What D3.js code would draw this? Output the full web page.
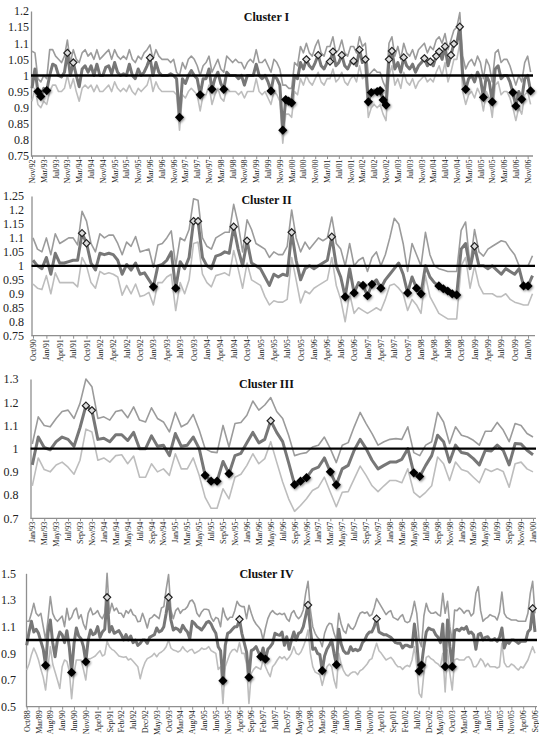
<!DOCTYPE html>
<html>
<head>
<meta charset="utf-8">
<script src="https://cdn.jsdelivr.net/npm/d3@7"></script>
<style>
  body { margin: 0; background: #fff; }
  svg { display: block; }
</style>
</head>
<body>
<svg id="chart" width="539" height="743"></svg>
<script>
const monthAbbr = ["Jan","Feb","Mar","Apr","May","Jun","Jul","Aug","Sep","Oct","Nov","Dec"];

// category labels "Mon/yy", one per month
function monthRange(startMonth, startYear, count) {
  const out = [];
  for (let k = 0; k < count; k++) {
    const m = startMonth + k;
    const yr = startYear + Math.floor(m / 12);
    out.push(monthAbbr[m % 12] + "/" + String(yr % 100).padStart(2, "0"));
  }
  return out;
}

// ---------- Cluster I : Nov/92 .. Dec/06 ----------
const c1Months = monthRange(10, 1992, 170);
const c1Mid = [
  0.96,1.02,0.95,0.935,0.96,0.953,1.0,1.035,1.03,1.0,
  0.995,1.01,1.07,1.0,1.04,1.0,0.965,1.02,1.03,1.01,
  1.03,1.0,1.035,1.0,1.0,1.025,1.03,1.005,1.04,1.01,
  1.0,1.005,1.0,1.035,1.0,0.99,1.02,1.0,1.01,1.03,
  1.055,1.0,1.04,1.01,1.0,1.0,1.0,1.005,1.0,0.99,
  0.87,0.99,0.975,1.0,1.015,1.0,0.99,0.94,0.99,0.99,
  1.02,0.957,0.99,1.01,0.975,0.957,1.01,1.0,1.0,1.0,
  0.99,1.0,0.97,1.0,1.0,1.0,1.035,1.0,0.99,1.0,
  0.98,0.952,1.0,0.99,0.97,0.83,0.925,0.92,0.915,1.0,
  0.99,1.04,1.02,1.05,1.03,1.02,1.04,1.063,1.03,1.02,
  1.04,1.043,1.074,1.03,1.04,1.063,1.03,1.02,1.04,1.045,
  1.03,1.08,1.04,1.05,0.918,0.947,0.955,0.95,0.953,0.924,
  0.908,1.05,1.076,1.02,1.04,1.01,1.056,1.03,1.02,1.035,
  1.01,1.03,1.04,1.053,1.03,1.043,1.03,1.06,1.074,1.05,
  1.09,1.03,1.063,1.098,1.1,1.151,1.0,0.957,0.99,1.0,
  0.98,1.01,0.99,0.932,1.0,0.98,0.918,1.02,1.03,0.99,
  1.0,1.0,0.98,0.947,0.905,0.95,0.926,0.99,1.0,0.952
];
const c1Upper = [
  1.075,1.07,0.99,0.98,1.0,0.99,1.08,1.08,1.06,1.05,
  1.04,1.06,1.11,1.04,1.08,1.05,1.04,1.07,1.08,1.06,
  1.07,1.05,1.08,1.05,1.06,1.07,1.08,1.05,1.08,1.06,
  1.05,1.06,1.05,1.08,1.05,1.04,1.06,1.05,1.07,1.08,
  1.095,1.05,1.08,1.06,1.05,1.05,1.05,1.04,1.05,1.01,
  1.0,1.04,1.02,1.05,1.06,1.05,1.03,1.0,1.03,1.04,
  1.06,1.01,1.03,1.05,1.02,1.01,1.06,1.05,1.04,1.05,
  1.04,1.04,1.02,1.04,1.05,1.04,1.08,1.04,1.04,1.05,
  1.03,1.01,1.05,1.04,1.02,0.97,0.97,0.96,0.96,1.04,
  1.03,1.09,1.07,1.1,1.07,1.06,1.09,1.11,1.07,1.06,
  1.09,1.09,1.12,1.07,1.08,1.11,1.07,1.06,1.09,1.09,
  1.07,1.12,1.09,1.1,1.0,1.01,1.02,1.01,1.01,0.98,
  0.96,1.1,1.12,1.06,1.09,1.05,1.1,1.07,1.06,1.08,
  1.05,1.08,1.09,1.1,1.07,1.09,1.08,1.11,1.12,1.1,
  1.13,1.08,1.11,1.14,1.15,1.195,1.06,1.02,1.04,1.05,
  1.03,1.06,1.04,0.99,1.05,1.03,0.98,1.07,1.08,1.04,
  1.05,1.05,1.03,1.0,0.97,1.0,0.98,1.04,1.06,1.01
];
const c1Lower = [
  0.92,0.96,0.91,0.9,0.92,0.91,0.95,0.97,0.97,0.95,
  0.95,0.96,1.0,0.96,0.99,0.95,0.92,0.96,0.97,0.96,
  0.97,0.95,0.97,0.95,0.95,0.96,0.97,0.95,0.98,0.96,
  0.95,0.96,0.95,0.97,0.95,0.94,0.96,0.95,0.96,0.97,
  1.0,0.95,0.98,0.96,0.95,0.95,0.95,0.95,0.95,0.94,
  0.83,0.94,0.93,0.95,0.96,0.95,0.94,0.89,0.94,0.94,
  0.97,0.91,0.94,0.96,0.93,0.92,0.96,0.95,0.95,0.95,
  0.94,0.95,0.93,0.95,0.95,0.95,0.99,0.95,0.94,0.95,
  0.93,0.91,0.95,0.94,0.92,0.79,0.88,0.88,0.87,0.95,
  0.94,0.99,0.97,1.0,0.98,0.97,0.99,1.01,0.98,0.97,
  0.99,0.99,1.02,0.98,0.99,1.01,0.98,0.97,0.99,1.0,
  0.98,1.03,0.99,1.0,0.87,0.9,0.91,0.9,0.91,0.88,
  0.86,1.0,1.03,0.97,0.99,0.96,1.01,0.98,0.97,0.99,
  0.96,0.98,0.99,1.0,0.98,0.99,0.98,1.01,1.03,1.0,
  1.04,0.98,1.01,1.05,1.05,1.1,0.95,0.91,0.94,0.95,
  0.93,0.96,0.94,0.89,0.95,0.93,0.87,0.97,0.98,0.94,
  0.95,0.95,0.93,0.9,0.86,0.9,0.88,0.94,0.95,0.91
];
const c1High = [12,14,40,93,97,101,102,105,109,111,113,121,122,126,133,135,137,138,140,142,143,145];
const c1Low = [2,3,5,50,57,61,65,81,85,86,87,88,114,115,117,118,119,120,147,153,156,163,164,166,169];
const c1Ticks = [0.75,0.8,0.85,0.9,0.95,1,1.05,1.1,1.15,1.2];

// ---------- Cluster II : Oct/90 .. Feb/00 ----------
const c2Months = monthRange(9, 1990, 113);
const c2Mid = [
  1.02,1.0,0.99,1.03,0.97,1.045,1.01,1.01,1.015,1.02,
  1.02,1.117,1.081,1.01,0.985,1.045,1.04,1.045,1.04,1.02,
  0.97,1.005,0.985,1.01,0.97,0.975,0.95,0.925,1.0,1.005,
  1.02,1.05,0.92,1.015,0.99,1.03,1.16,1.16,1.03,1.0,
  0.99,1.035,1.04,1.05,1.045,1.14,1.06,1.0,1.09,1.01,
  1.0,0.99,0.96,0.93,0.97,0.96,0.97,0.965,1.12,1.02,
  0.95,0.99,1.0,0.99,1.0,1.01,1.02,1.104,1.0,0.96,
  0.889,0.99,0.903,0.94,0.93,0.893,0.934,0.95,0.92,0.95,
  0.97,0.99,1.01,0.97,0.903,0.96,0.92,0.9,1.0,0.96,
  0.94,0.928,0.918,0.91,0.9,0.896,1.06,1.08,0.99,1.07,
  1.0,1.0,0.99,1.0,0.985,0.97,0.99,0.98,0.97,0.99,
  0.928,0.928,0.965
];
const c2Upper = [
  1.1,1.06,1.05,1.1,1.04,1.115,1.08,1.09,1.1,1.1,
  1.075,1.195,1.16,1.08,1.05,1.115,1.1,1.11,1.11,1.08,
  1.04,1.085,1.07,1.105,1.05,1.055,1.06,0.995,1.075,1.08,
  1.1,1.125,1.0,1.1,1.09,1.13,1.24,1.235,1.1,1.07,
  1.06,1.1,1.11,1.12,1.12,1.22,1.15,1.05,1.165,1.13,
  1.08,1.07,1.06,1.03,1.05,1.04,1.04,1.07,1.2,1.1,
  1.05,1.085,1.06,1.08,1.1,1.09,1.1,1.175,1.08,1.06,
  1.0,1.08,1.0,1.02,1.03,0.98,1.03,1.05,1.0,1.04,
  1.1,1.17,1.15,1.08,0.98,1.08,1.04,1.0,1.12,1.04,
  1.0,0.99,0.985,0.98,0.98,0.98,1.127,1.157,1.0,1.13,
  1.05,1.035,1.06,1.07,1.08,1.09,1.085,1.06,1.04,1.0,
  1.0,1.0,1.036
];
const c2Lower = [
  0.935,0.92,0.915,0.965,0.9,0.975,0.94,0.94,0.94,0.94,
  0.925,1.03,1.0,0.94,0.92,0.98,0.97,0.975,0.97,0.96,
  0.895,0.93,0.9,0.935,0.89,0.895,0.905,0.86,0.94,0.94,
  0.96,0.97,0.84,0.94,0.9,0.95,1.08,1.085,0.97,0.94,
  0.925,0.965,0.97,0.975,0.965,1.055,0.99,0.92,1.01,0.95,
  0.94,0.93,0.89,0.86,0.875,0.87,0.87,0.88,1.03,0.95,
  0.867,0.91,0.9,0.92,0.93,0.94,0.95,1.03,0.93,0.88,
  0.8,0.9,0.83,0.85,0.84,0.83,0.84,0.85,0.84,0.88,
  0.93,0.935,0.92,0.9,0.84,0.88,0.86,0.83,0.965,0.89,
  0.86,0.83,0.82,0.81,0.81,0.81,1.0,1.03,0.92,1.0,
  0.93,0.9,0.9,0.9,0.89,0.89,0.9,0.88,0.87,0.865,
  0.86,0.86,0.9
];
const c2High = [11,12,36,37,45,48,58,67,99];
const c2Low = [27,32,70,72,74,75,76,78,84,86,87,91,92,93,94,95,110,111];
const c2Ticks = [0.75,0.8,0.85,0.9,0.95,1,1.05,1.1,1.15,1.2,1.25];

// ---------- Cluster III : Jan/93 .. Jan/00 ----------
const c3Months = monthRange(0, 1993, 85);
const c3Mid = [
  0.93,1.05,1.005,0.995,1.03,1.05,1.04,1.01,1.09,1.185,
  1.165,1.04,1.045,1.03,1.06,1.06,1.035,1.07,1.0,1.0,
  1.055,1.01,1.015,0.97,1.065,1.01,1.015,1.05,1.0,0.885,
  0.86,0.86,0.945,0.892,0.97,0.98,1.025,1.07,1.025,1.04,
  1.12,1.07,1.03,0.94,0.845,0.86,0.875,0.91,0.92,0.96,
  0.9,0.844,0.913,0.928,0.993,1.04,1.0,0.95,0.913,0.928,
  0.942,0.942,0.954,1.0,0.896,0.88,0.928,0.97,1.058,1.03,
  0.942,1.015,0.983,0.978,0.957,0.93,0.993,0.99,1.015,0.993,
  0.93,1.022,1.02,0.993,0.974
];
const c3Upper = [
  1.02,1.137,1.1,1.094,1.13,1.16,1.166,1.13,1.195,1.3,
  1.267,1.13,1.137,1.123,1.16,1.166,1.133,1.18,1.123,1.115,
  1.176,1.13,1.115,1.072,1.156,1.094,1.108,1.147,1.08,1.0,
  0.986,0.983,1.1,1.007,1.108,1.113,1.144,1.205,1.166,1.188,
  1.22,1.16,1.13,1.058,0.97,0.978,0.983,1.007,1.015,1.05,
  1.0,0.94,1.015,1.026,1.094,1.156,1.108,1.065,1.015,1.03,
  1.04,1.043,1.04,1.094,0.983,0.97,1.015,1.03,1.156,1.115,
  1.022,1.094,1.058,1.05,1.036,1.015,1.075,1.075,1.113,1.08,
  1.03,1.108,1.1,1.065,1.05
];
const c3Lower = [
  0.84,0.96,0.91,0.9,0.93,0.942,0.92,0.89,0.95,1.084,
  1.072,0.95,0.96,0.942,0.97,0.974,0.935,0.968,0.877,0.877,
  0.935,0.9,0.913,0.885,0.978,0.913,0.913,0.96,0.885,0.79,
  0.743,0.743,0.827,0.784,0.877,0.89,0.928,0.978,0.935,0.957,
  1.03,0.942,0.856,0.784,0.73,0.755,0.784,0.82,0.834,0.877,
  0.812,0.75,0.812,0.815,0.87,0.925,0.885,0.84,0.815,0.84,
  0.863,0.863,0.853,0.913,0.812,0.79,0.812,0.84,0.964,0.935,
  0.863,0.942,0.91,0.902,0.877,0.853,0.913,0.902,0.913,0.902,
  0.834,0.935,0.942,0.913,0.9
];
const c3High = [9,10,40];
const c3Low = [29,30,31,33,44,45,46,50,51,64,65];
const c3Ticks = [0.7,0.8,0.9,1,1.1,1.2,1.3];

// ---------- Cluster IV : Oct/88 .. Sep/06 ----------
const c4Months = monthRange(9, 1988, 216);
const c4Mid = [
  0.96,1.06,1.14,1.06,1.08,1.05,0.99,0.93,0.81,1.05,
  1.15,0.98,0.875,1.0,1.06,1.04,0.98,1.07,0.95,0.757,
  0.97,1.09,1.03,1.01,0.95,0.837,1.0,1.075,1.04,1.05,
  1.1,1.02,1.06,1.08,1.32,1.06,1.1,1.05,1.06,1.07,
  1.04,1.0,1.04,1.0,1.03,0.98,1.0,0.96,0.975,1.0,
  1.0,0.975,1.02,1.03,1.04,1.09,1.06,1.07,1.1,1.2,
  1.32,1.15,1.075,1.09,1.08,1.06,1.11,1.08,1.06,1.01,
  1.14,1.125,1.1,1.09,1.075,1.1,1.13,1.14,1.12,1.08,
  1.05,0.95,0.92,0.695,0.96,1.05,1.06,1.08,1.1,1.1,
  1.155,1.05,0.98,0.91,0.72,0.92,0.93,0.95,0.91,0.875,
  0.94,0.857,0.93,0.95,0.975,1.05,1.04,1.035,1.06,0.96,
  1.025,0.93,1.0,1.06,1.0,1.05,1.06,1.1,1.18,1.262,
  1.08,0.93,0.94,0.9,0.89,0.77,0.88,0.93,0.96,1.0,
  0.9,0.815,1.08,0.97,0.92,0.9,0.9,0.95,0.92,0.93,
  0.92,0.93,0.98,1.0,1.04,1.06,1.06,1.1,1.16,1.06,
  1.05,1.04,1.04,1.03,1.02,1.0,0.98,0.975,0.975,0.94,
  0.96,0.96,0.95,0.95,1.12,0.98,0.767,0.812,0.95,1.06,
  1.09,1.08,1.075,1.04,1.02,0.98,1.12,0.8,1.15,0.95,
  0.8,1.07,1.08,1.07,1.09,1.08,1.1,1.05,1.06,1.04,
  0.93,1.04,1.05,1.0,1.02,1.025,1.0,1.0,1.01,0.99,
  1.02,1.09,0.94,0.99,0.975,1.0,1.0,0.99,0.975,0.99,
  0.99,0.99,1.06,1.08,1.237,1.06
];
const c4Upper = [
  1.14,1.14,1.2,1.275,1.2,1.18,1.2,1.1,1.0,1.15,
  1.325,1.2,1.16,1.14,1.16,1.18,1.1,1.237,1.15,1.17,
  1.22,1.24,1.16,1.19,1.12,1.08,1.2,1.24,1.19,1.2,
  1.22,1.18,1.16,1.2,1.5,1.2,1.275,1.22,1.24,1.2,
  1.2,1.17,1.22,1.2,1.23,1.19,1.18,1.137,1.14,1.2,
  1.15,1.09,1.16,1.17,1.19,1.175,1.16,1.24,1.25,1.38,
  1.49,1.225,1.16,1.22,1.24,1.2,1.225,1.23,1.25,1.29,
  1.3,1.27,1.2,1.175,1.21,1.23,1.23,1.225,1.17,1.14,
  1.17,1.16,1.1,1.24,1.18,1.15,1.17,1.17,1.22,1.29,
  1.26,1.25,1.25,1.16,1.26,1.2,1.15,1.12,1.1,1.075,
  1.0,1.09,1.16,1.2,1.22,1.2,1.19,1.2,1.19,1.2,
  1.16,1.14,1.2,1.22,1.18,1.16,1.18,1.225,1.35,1.44,
  1.225,1.1,1.05,1.02,1.0,0.95,1.05,1.1,1.125,1.12,
  1.05,1.0,1.2,1.12,1.07,1.05,1.12,1.09,1.08,1.11,
  1.16,1.2,1.21,1.2,1.21,1.18,1.19,1.24,1.31,1.28,
  1.25,1.22,1.19,1.21,1.22,1.17,1.16,1.15,1.175,1.19,
  1.14,1.13,1.14,1.2,1.29,1.2,1.0,0.95,1.18,1.275,
  1.22,1.2,1.2,1.21,1.19,1.18,1.35,1.2,1.29,1.1,
  0.99,1.225,1.22,1.24,1.225,1.2,1.22,1.22,1.18,1.2,
  1.35,1.4,1.22,1.14,1.16,1.17,1.19,1.18,1.175,1.15,
  1.21,1.36,1.2,1.17,1.16,1.15,1.15,1.15,1.14,1.14,
  1.14,1.14,1.2,1.35,1.44,1.2
];
const c4Lower = [
  0.775,0.82,0.89,0.94,0.9,0.85,0.78,0.72,0.625,0.8,
  0.95,0.82,0.76,0.7,0.637,0.8,0.85,0.84,0.77,0.56,
  0.75,0.85,0.85,0.85,0.78,0.7,0.86,0.86,0.87,0.88,
  0.9,0.92,0.88,0.89,0.99,0.95,0.93,0.92,0.9,0.88,
  0.875,0.87,0.875,0.85,0.86,0.84,0.82,0.8,0.71,0.78,
  0.83,0.86,0.87,0.88,0.9,0.875,0.9,0.91,0.925,0.95,
  1.0,0.94,0.925,0.92,0.91,0.92,0.95,0.925,0.91,0.925,
  0.93,0.9,0.91,0.92,0.94,0.93,0.935,0.95,0.92,0.91,
  0.9,0.78,0.8,0.525,0.8,0.85,0.9,0.925,0.93,0.91,
  0.98,0.9,0.9,0.82,0.525,0.75,0.78,0.8,0.79,0.78,
  0.85,0.8,0.76,0.725,0.8,0.82,0.85,0.875,0.86,0.875,
  0.85,0.87,0.9,0.95,0.9,0.89,0.91,0.95,1.0,1.075,
  0.9,0.8,0.76,0.75,0.74,0.66,0.73,0.8,0.82,0.8,
  0.7,0.64,0.9,0.82,0.77,0.74,0.73,0.75,0.76,0.76,
  0.74,0.77,0.78,0.8,0.82,0.85,0.86,0.92,0.975,0.92,
  0.9,0.875,0.85,0.86,0.87,0.85,0.82,0.8,0.8,0.78,
  0.8,0.81,0.8,0.85,0.95,0.8,0.6,0.57,0.75,0.87,
  0.88,0.86,0.85,0.83,0.82,0.8,0.9,0.61,0.925,0.75,
  0.625,0.85,0.86,0.85,0.85,0.85,0.87,0.875,0.85,0.8,
  0.8,0.825,0.86,0.84,0.8,0.825,0.8,0.8,0.8,0.79,
  0.8,0.975,0.83,0.8,0.8,0.82,0.81,0.79,0.775,0.8,
  0.79,0.82,0.85,0.9,0.95,0.9
];
const c4High = [34,60,90,119,148,214];
const c4Low = [8,19,25,83,94,99,101,125,131,166,167,177,180];
const c4Ticks = [0.5,0.7,0.9,1.1,1.3,1.5];

const panels = [
  { title: "Cluster I", months: c1Months, mid: c1Mid, upper: c1Upper, lower: c1Lower,
    high: c1High, low: c1Low, ticks: c1Ticks, every: 4,
    axisX: 31, x0: 32, x1: 530.6, xEnd: 533, yTop: 11, yBot: 156, lblRight: 29, titleY: 20.5 },
  { title: "Cluster II", months: c2Months, mid: c2Mid, upper: c2Upper, lower: c2Lower,
    high: c2High, low: c2Low, ticks: c2Ticks, every: 3,
    axisX: 31.5, x0: 33, x1: 532.5, xEnd: 535, yTop: 196, yBot: 335.7, lblRight: 24, titleY: 203.5 },
  { title: "Cluster III", months: c3Months, mid: c3Mid, upper: c3Upper, lower: c3Lower,
    high: c3High, low: c3Low, ticks: c3Ticks, every: 2,
    axisX: 30.5, x0: 32.3, x1: 533, xEnd: 536, yTop: 379, yBot: 518.3, lblRight: 18.5, titleY: 387.5 },
  { title: "Cluster IV", months: c4Months, mid: c4Mid, upper: c4Upper, lower: c4Lower,
    high: c4High, low: c4Low, ticks: c4Ticks, every: 5,
    axisX: 26, x0: 26.7, x1: 535, xEnd: 537, yTop: 573.3, yBot: 706.7, lblRight: 16, titleY: 578 }
];

const svg = d3.select("#chart");
const serif = "'Liberation Serif', 'Times New Roman', serif";
const axisColor = "#8f8f8f";

const defs = svg.append("defs");
const shadow = defs.append("filter").attr("id", "shade")
  .attr("x", "-60%").attr("y", "-60%").attr("width", "220%").attr("height", "220%");
shadow.append("feDropShadow")
  .attr("dx", 1).attr("dy", 1.2).attr("stdDeviation", 1.3)
  .attr("flood-color", "#000").attr("flood-opacity", 0.45);

function diamond(r) {
  return `M0,${-r}L${r},0L0,${r}L${-r},0Z`;
}

panels.forEach(p => {
  const g = svg.append("g");

  const x = d3.scalePoint().domain(p.months).range([p.x0, p.x1]);
  const y = d3.scaleLinear()
    .domain([d3.min(p.ticks), d3.max(p.ticks)])
    .range([p.yBot, p.yTop]);

  // y axis
  const yAxis = g.append("g")
    .attr("transform", `translate(${p.axisX},0)`)
    .call(d3.axisLeft(y).tickValues(p.ticks).tickFormat(d => String(d))
      .tickSize(0).tickSizeOuter(0).tickPadding(p.axisX - p.lblRight));
  yAxis.select(".domain").attr("stroke", axisColor).attr("stroke-width", 1.3);
  yAxis.selectAll("text")
    .style("font-family", serif).style("font-size", "12px").attr("fill", "#222");

  // x axis
  const tickCats = p.months.filter((m, i) => i % p.every === 0);
  const xAxis = g.append("g")
    .attr("transform", `translate(0,${p.yBot})`)
    .call(d3.axisBottom(x).tickValues(tickCats).tickSize(3).tickSizeOuter(0));
  xAxis.select(".domain").remove();
  xAxis.selectAll(".tick line").attr("stroke", axisColor);
  xAxis.selectAll("text")
    .attr("transform", "rotate(-90)")
    .attr("text-anchor", "end")
    .attr("x", -3.5).attr("y", 0).attr("dy", "0.32em")
    .style("font-family", serif).style("font-size", "8px").attr("fill", "#222");
  g.append("line")
    .attr("x1", p.axisX).attr("x2", p.xEnd)
    .attr("y1", p.yBot).attr("y2", p.yBot)
    .attr("stroke", axisColor).attr("stroke-width", 1.3);

  const line = series => d3.line()
    .x((d, i) => x(p.months[i]))
    .y(d => y(d))(series);

  g.append("path").attr("d", line(p.lower))
    .attr("fill", "none").attr("stroke", "#bdbdbd").attr("stroke-width", 1.6)
    .attr("stroke-linejoin", "round");
  g.append("path").attr("d", line(p.upper))
    .attr("fill", "none").attr("stroke", "#9b9b9b").attr("stroke-width", 1.6)
    .attr("stroke-linejoin", "round");
  g.append("path").attr("d", line(p.mid))
    .attr("fill", "none").attr("stroke", "#777").attr("stroke-width", 3)
    .attr("stroke-linejoin", "round");

  // reference line at 1
  g.append("line")
    .attr("x1", p.axisX).attr("x2", p.xEnd)
    .attr("y1", y(1)).attr("y2", y(1))
    .attr("stroke", "#000").attr("stroke-width", 2.4);

  // low markers: filled black diamonds
  g.append("g").selectAll("path")
    .data(p.low)
    .join("path")
    .attr("d", diamond(4.6))
    .attr("transform", i => `translate(${x(p.months[i])},${y(p.mid[i])})`)
    .attr("fill", "#000")
    .attr("filter", "url(#shade)");

  // high markers: open diamonds
  g.append("g").selectAll("path")
    .data(p.high)
    .join("path")
    .attr("d", diamond(3.6))
    .attr("transform", i => `translate(${x(p.months[i])},${y(p.mid[i])})`)
    .attr("fill", "#dcdcdc")
    .attr("stroke", "#222")
    .attr("stroke-width", 1.2);

  g.append("text")
    .attr("x", 266.5).attr("y", p.titleY)
    .attr("text-anchor", "middle")
    .style("font-family", serif).style("font-size", "12px").style("font-weight", "bold")
    .attr("fill", "#111")
    .text(p.title);
});
</script>
</body>
</html>
